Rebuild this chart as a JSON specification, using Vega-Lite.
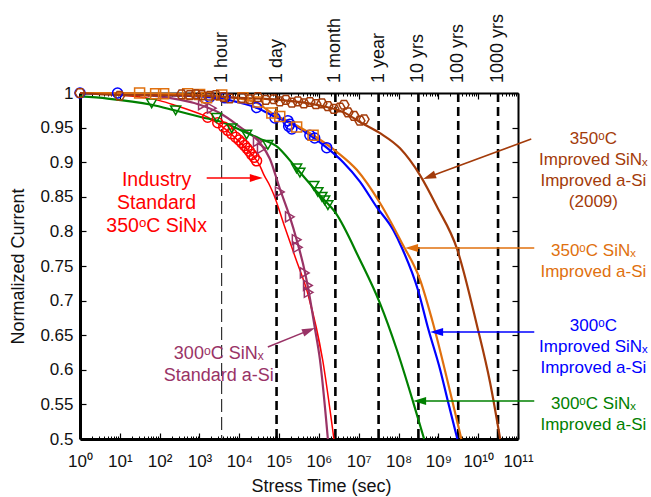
{
  "$schema": "https://vega.github.io/schema/vega-lite/v6.json",
  "width": 438,
  "height": 346,
  "autosize": {"type": "none"},
  "padding": {"left": 80, "top": 93, "right": 133, "bottom": 58},
  "background": "white",
  "config": {
    "font": "Liberation Sans",
    "view": {"stroke": null},
    "axis": {"grid": false, "domainColor": "black", "tickColor": "black", "labelColor": "#111", "titleColor": "#111", "titleFontWeight": "normal", "labelFont": "Liberation Sans", "titleFont": "Liberation Sans"},
    "text": {"font": "Liberation Sans"}
  },
  "datasets": {
    "events": [
      {"label": "1 hour", "t": 3600},
      {"label": "1 day", "t": 86400},
      {"label": "1 month", "t": 2592000},
      {"label": "1 year", "t": 31536000},
      {"label": "10 yrs", "t": 315360000},
      {"label": "100 yrs", "t": 3153600000},
      {"label": "1000 yrs", "t": 31536000000}
    ],
    "curves": [
      {"series": "std350", "t": 1, "v": 1.0}, {"series": "std350", "t": 10, "v": 0.997}, {"series": "std350", "t": 100, "v": 0.989}, {"series": "std350", "t": 252, "v": 0.982}, {"series": "std350", "t": 1010, "v": 0.97}, {"series": "std350", "t": 1610, "v": 0.965}, {"series": "std350", "t": 5130, "v": 0.945}, {"series": "std350", "t": 10300, "v": 0.929}, {"series": "std350", "t": 26000, "v": 0.904}, {"series": "std350", "t": 32800, "v": 0.895}, {"series": "std350", "t": 41300, "v": 0.882}, {"series": "std350", "t": 58500, "v": 0.866}, {"series": "std350", "t": 73800, "v": 0.853}, {"series": "std350", "t": 132000, "v": 0.81}, {"series": "std350", "t": 264000, "v": 0.76}, {"series": "std350", "t": 528000, "v": 0.71}, {"series": "std350", "t": 1245000, "v": 0.614}, {"series": "std350", "t": 2380000, "v": 0.5},
      {"series": "std300", "t": 1, "v": 1.0}, {"series": "std300", "t": 10, "v": 0.999}, {"series": "std300", "t": 100, "v": 0.995}, {"series": "std300", "t": 1010, "v": 0.983}, {"series": "std300", "t": 3230, "v": 0.971}, {"series": "std300", "t": 10300, "v": 0.951}, {"series": "std300", "t": 32800, "v": 0.928}, {"series": "std300", "t": 58500, "v": 0.905}, {"series": "std300", "t": 104000, "v": 0.862}, {"series": "std300", "t": 186000, "v": 0.821}, {"series": "std300", "t": 276000, "v": 0.788}, {"series": "std300", "t": 450000, "v": 0.74}, {"series": "std300", "t": 528000, "v": 0.72}, {"series": "std300", "t": 793000, "v": 0.66}, {"series": "std300", "t": 1060000, "v": 0.615}, {"series": "std300", "t": 1680000, "v": 0.5},
      {"series": "imp300", "t": 1, "v": 0.995}, {"series": "imp300", "t": 4.92, "v": 0.992}, {"series": "imp300", "t": 63, "v": 0.983}, {"series": "imp300", "t": 236, "v": 0.975}, {"series": "imp300", "t": 1140, "v": 0.965}, {"series": "imp300", "t": 3630, "v": 0.958}, {"series": "imp300", "t": 10300, "v": 0.947}, {"series": "imp300", "t": 32800, "v": 0.934}, {"series": "imp300", "t": 82800, "v": 0.924}, {"series": "imp300", "t": 276000, "v": 0.891}, {"series": "imp300", "t": 1060000, "v": 0.852}, {"series": "imp300", "t": 2680000, "v": 0.826}, {"series": "imp300", "t": 10700000, "v": 0.759}, {"series": "imp300", "t": 34200000, "v": 0.696}, {"series": "imp300", "t": 90600000, "v": 0.629}, {"series": "imp300", "t": 234000000, "v": 0.553}, {"series": "imp300", "t": 439000000, "v": 0.5},
      {"series": "impimp300", "t": 1, "v": 1.0}, {"series": "impimp300", "t": 10, "v": 0.999}, {"series": "impimp300", "t": 100, "v": 0.997}, {"series": "impimp300", "t": 1010, "v": 0.995}, {"series": "impimp300", "t": 3230, "v": 0.992}, {"series": "impimp300", "t": 10300, "v": 0.986}, {"series": "impimp300", "t": 29200, "v": 0.978}, {"series": "impimp300", "t": 82800, "v": 0.965}, {"series": "impimp300", "t": 186000, "v": 0.957}, {"series": "impimp300", "t": 593000, "v": 0.939}, {"series": "impimp300", "t": 1570000, "v": 0.921}, {"series": "impimp300", "t": 4060000, "v": 0.9}, {"series": "impimp300", "t": 10700000, "v": 0.872}, {"series": "impimp300", "t": 28400000, "v": 0.835}, {"series": "impimp300", "t": 73500000, "v": 0.802}, {"series": "impimp300", "t": 122000000, "v": 0.776}, {"series": "impimp300", "t": 309000000, "v": 0.715}, {"series": "impimp300", "t": 552000000, "v": 0.66}, {"series": "impimp300", "t": 1110000000, "v": 0.6}, {"series": "impimp300", "t": 1760000000, "v": 0.553}, {"series": "impimp300", "t": 3000000000, "v": 0.5},
      {"series": "imp350", "t": 1, "v": 1.0}, {"series": "imp350", "t": 10, "v": 1.0}, {"series": "imp350", "t": 100, "v": 0.999}, {"series": "imp350", "t": 1010, "v": 0.997}, {"series": "imp350", "t": 10300, "v": 0.992}, {"series": "imp350", "t": 29200, "v": 0.985}, {"series": "imp350", "t": 65800, "v": 0.971}, {"series": "imp350", "t": 276000, "v": 0.953}, {"series": "imp350", "t": 714000, "v": 0.939}, {"series": "imp350", "t": 2810000, "v": 0.915}, {"series": "imp350", "t": 8930000, "v": 0.889}, {"series": "imp350", "t": 34200000, "v": 0.841}, {"series": "imp350", "t": 122000000, "v": 0.783}, {"series": "imp350", "t": 348000000, "v": 0.73}, {"series": "imp350", "t": 697000000, "v": 0.672}, {"series": "imp350", "t": 2220000000, "v": 0.556}, {"series": "imp350", "t": 3780000000, "v": 0.5},
      {"series": "impimp350", "t": 1, "v": 1.0}, {"series": "impimp350", "t": 10, "v": 0.997}, {"series": "impimp350", "t": 1010, "v": 0.996}, {"series": "impimp350", "t": 10300, "v": 0.993}, {"series": "impimp350", "t": 104000, "v": 0.99}, {"series": "impimp350", "t": 1060000, "v": 0.982}, {"series": "impimp350", "t": 4260000, "v": 0.972}, {"series": "impimp350", "t": 10700000, "v": 0.958}, {"series": "impimp350", "t": 34200000, "v": 0.942}, {"series": "impimp350", "t": 109000000, "v": 0.92}, {"series": "impimp350", "t": 348000000, "v": 0.881}, {"series": "impimp350", "t": 918000000, "v": 0.836}, {"series": "impimp350", "t": 2930000000, "v": 0.775}, {"series": "impimp350", "t": 9330000000, "v": 0.664}, {"series": "impimp350", "t": 20000000000, "v": 0.581}, {"series": "impimp350", "t": 35700000000, "v": 0.5}
    ],
    "markers": [
      {"series": "std350", "t": 1610, "v": 0.965}, {"series": "std350", "t": 2880, "v": 0.957}, {"series": "std350", "t": 4070, "v": 0.951}, {"series": "std350", "t": 5130, "v": 0.946}, {"series": "std350", "t": 6470, "v": 0.941}, {"series": "std350", "t": 8170, "v": 0.936}, {"series": "std350", "t": 9820, "v": 0.932}, {"series": "std350", "t": 11600, "v": 0.928}, {"series": "std350", "t": 13600, "v": 0.924}, {"series": "std350", "t": 15600, "v": 0.92}, {"series": "std350", "t": 17900, "v": 0.916}, {"series": "std350", "t": 20600, "v": 0.911}, {"series": "std350", "t": 23700, "v": 0.907}, {"series": "std350", "t": 27200, "v": 0.902},
      {"series": "std300", "t": 1220, "v": 0.983}, {"series": "std300", "t": 2030, "v": 0.978}, {"series": "std300", "t": 29200, "v": 0.93}, {"series": "std300", "t": 36800, "v": 0.92}, {"series": "std300", "t": 104000, "v": 0.857}, {"series": "std300", "t": 186000, "v": 0.821}, {"series": "std300", "t": 276000, "v": 0.788}, {"series": "std300", "t": 296000, "v": 0.777}, {"series": "std300", "t": 440000, "v": 0.74}, {"series": "std300", "t": 528000, "v": 0.722}, {"series": "std300", "t": 553000, "v": 0.712},
      {"series": "imp300", "t": 63, "v": 0.985}, {"series": "imp300", "t": 252, "v": 0.975}, {"series": "imp300", "t": 2690, "v": 0.964}, {"series": "imp300", "t": 6470, "v": 0.949}, {"series": "imp300", "t": 15300, "v": 0.94}, {"series": "imp300", "t": 52100, "v": 0.925}, {"series": "imp300", "t": 276000, "v": 0.891}, {"series": "imp300", "t": 333000, "v": 0.885}, {"series": "imp300", "t": 748000, "v": 0.866}, {"series": "imp300", "t": 944000, "v": 0.857}, {"series": "imp300", "t": 1190000, "v": 0.85}, {"series": "imp300", "t": 1400000, "v": 0.845}, {"series": "imp300", "t": 1680000, "v": 0.838},
      {"series": "impimp300", "t": 1, "v": 1.0}, {"series": "impimp300", "t": 8.77, "v": 1.0}, {"series": "impimp300", "t": 1810, "v": 0.994}, {"series": "impimp300", "t": 4370, "v": 0.993}, {"series": "impimp300", "t": 27200, "v": 0.979}, {"series": "impimp300", "t": 79100, "v": 0.964}, {"series": "impimp300", "t": 166000, "v": 0.96}, {"series": "impimp300", "t": 174000, "v": 0.952}, {"series": "impimp300", "t": 186000, "v": 0.955}, {"series": "impimp300", "t": 209000, "v": 0.948}, {"series": "impimp300", "t": 593000, "v": 0.939}, {"series": "impimp300", "t": 783000, "v": 0.935}, {"series": "impimp300", "t": 1570000, "v": 0.921},
      {"series": "imp350", "t": 31.4, "v": 1.0}, {"series": "imp350", "t": 79.3, "v": 0.999}, {"series": "imp350", "t": 126, "v": 0.999}, {"series": "imp350", "t": 506, "v": 0.999}, {"series": "imp350", "t": 1010, "v": 0.998}, {"series": "imp350", "t": 1510, "v": 0.993}, {"series": "imp350", "t": 3630, "v": 0.997}, {"series": "imp350", "t": 12400, "v": 0.993}, {"series": "imp350", "t": 29200, "v": 0.987}, {"series": "imp350", "t": 65800, "v": 0.971}, {"series": "imp350", "t": 104000, "v": 0.966}, {"series": "imp350", "t": 276000, "v": 0.951}, {"series": "imp350", "t": 714000, "v": 0.939},
      {"series": "impimp350", "t": 1, "v": 1.0}, {"series": "impimp350", "t": 9.87, "v": 0.996}, {"series": "impimp350", "t": 357, "v": 0.998}, {"series": "impimp350", "t": 569, "v": 0.997}, {"series": "impimp350", "t": 805, "v": 0.998}, {"series": "impimp350", "t": 1140, "v": 0.997}, {"series": "impimp350", "t": 1810, "v": 0.996}, {"series": "impimp350", "t": 2560, "v": 0.997}, {"series": "impimp350", "t": 4070, "v": 0.994}, {"series": "impimp350", "t": 5770, "v": 0.992}, {"series": "impimp350", "t": 11600, "v": 0.993}, {"series": "impimp350", "t": 18400, "v": 0.991}, {"series": "impimp350", "t": 29200, "v": 0.994}, {"series": "impimp350", "t": 46400, "v": 0.99}, {"series": "impimp350", "t": 73800, "v": 0.991}, {"series": "impimp350", "t": 104000, "v": 0.988}, {"series": "impimp350", "t": 148000, "v": 0.99}, {"series": "impimp350", "t": 209000, "v": 0.986}, {"series": "impimp350", "t": 296000, "v": 0.988}, {"series": "impimp350", "t": 419000, "v": 0.985}, {"series": "impimp350", "t": 593000, "v": 0.987}, {"series": "impimp350", "t": 840000, "v": 0.984}, {"series": "impimp350", "t": 1190000, "v": 0.985}, {"series": "impimp350", "t": 1680000, "v": 0.981}, {"series": "impimp350", "t": 2380000, "v": 0.977}, {"series": "impimp350", "t": 3370000, "v": 0.979}, {"series": "impimp350", "t": 4260000, "v": 0.983}, {"series": "impimp350", "t": 5370000, "v": 0.972}, {"series": "impimp350", "t": 7590000, "v": 0.967}, {"series": "impimp350", "t": 10700000, "v": 0.96}, {"series": "impimp350", "t": 13600000, "v": 0.962}
    ],
    "notes": [
      {"series": "std350", "text": "Industry\nStandard\n350ᵒC SiNx", "t": 84.1, "v": 0.8743},
      {"series": "std300", "text": "300ᵒC SiNₓ\nStandard a-Si", "t": 3050, "v": 0.6228},
      {"series": "impimp350", "text": "350ᵒC\nImproved SiNₓ\nImproved a-Si\n(2009)", "t": 7820000000000, "v": 0.9335},
      {"series": "imp350", "text": "350ᵒC SiNₓ\nImproved a-Si", "t": 7820000000000, "v": 0.7717},
      {"series": "impimp300", "text": "300ᵒC\nImproved SiNₓ\nImproved a-Si", "t": 7820000000000, "v": 0.6633},
      {"series": "imp300", "text": "300ᵒC SiNₓ\nImproved a-Si", "t": 7820000000000, "v": 0.5513}
    ],
    "arrows": [
      {"series": "std350", "t": 1521, "v": 0.8772, "t2": 26800, "v2": 0.8772},
      {"series": "std300", "t": 52100, "v": 0.6329, "t2": 560000, "v2": 0.657},
      {"series": "impimp350", "t": 215000000000, "v": 0.9335, "t2": 589000000, "v2": 0.879},
      {"series": "imp350", "t": 256000000000, "v": 0.776, "t2": 212000000, "v2": 0.776},
      {"series": "impimp300", "t": 256000000000, "v": 0.6546, "t2": 904000000, "v2": 0.6546},
      {"series": "imp300", "t": 256000000000, "v": 0.5549, "t2": 338000000, "v2": 0.5549}
    ]
  },
  "resolve": {"axis": {"x": "independent", "y": "independent"}},
  "layer": [
    {
      "data": {"name": "events"},
      "mark": {"type": "rule"},
      "encoding": {
        "x": {"field": "t", "type": "quantitative", "scale": {"type": "log", "domain": [1, 100000000000]},
          "axis": {"orient": "bottom", "values": [1, 10, 100, 1000, 10000, 100000, 1000000, 10000000, 100000000, 1000000000, 10000000000, 100000000000],
            "labelExpr": "'10' + ['⁰','¹','²','³','⁴','⁵','⁶','⁷','⁸','⁹','¹⁰','¹¹'][round(log(datum.value)/LN10)]",
            "labelFontSize": 17, "labelPadding": 20, "labelOverlap": false, "labelFlush": false, "tickSize": -6, "tickWidth": 1.2, "domainWidth": 3,
            "title": "Stress Time (sec)", "titleFontSize": 18, "titleX": 241, "titleY": 47, "titleBaseline": "middle", "titleAlign": "center"}},
        "strokeWidth": {"condition": {"test": "datum.label == '1 hour'", "value": 1.2}, "value": 2.6},
        "strokeDash": {"condition": {"test": "datum.label == '1 hour'", "value": [13, 5]}, "value": [9, 5]},
        "color": {"condition": {"test": "datum.label == '1 hour'", "value": "#333333"}, "value": "#000000"}
      }
    },
    {
      "data": {"name": "curves"},
      "mark": {"type": "line", "interpolate": "monotone"},
      "encoding": {
        "x": {"field": "t", "type": "quantitative", "scale": {"type": "log", "domain": [1, 100000000000]},
          "axis": {"orient": "top", "values": [1, 10, 100, 1000, 10000, 100000, 1000000, 10000000, 100000000, 1000000000, 10000000000, 100000000000], "labels": false, "tickSize": -6, "tickWidth": 1.2, "domainWidth": 2, "title": null}},
        "y": {"field": "v", "type": "quantitative", "scale": {"domain": [0.5, 1], "zero": false, "nice": false},
          "axis": {"orient": "left", "values": [0.5, 0.55, 0.6, 0.65, 0.7, 0.75, 0.8, 0.85, 0.9, 0.95, 1], "format": ".2~f", "labelFontSize": 17, "labelPadding": 13, "tickSize": -6, "tickWidth": 1.2, "domainWidth": 3,
            "title": "Normalized Current", "titleFontSize": 18, "titleX": -62, "titleY": 173, "titleBaseline": "middle", "titleAngle": 270, "titleAlign": "center"}},
        "color": {"field": "series", "type": "nominal", "scale": {"domain": ["std350", "std300", "imp300", "impimp300", "imp350", "impimp350"], "range": ["#ff0000", "#993366", "#008000", "#0000ff", "#e0700e", "#a33b0a"]}, "legend": null},
        "strokeWidth": {"condition": {"test": "datum.series == 'std350'", "value": 1.5}, "value": 2.2}
      }
    },
    {
      "data": {"name": "markers"},
      "mark": {"type": "point", "filled": false, "strokeWidth": 1.5, "size": 100, "opacity": 1},
      "encoding": {
        "x": {"field": "t", "type": "quantitative", "scale": {"type": "log", "domain": [1, 100000000000]},
          "axis": {"orient": "bottom", "values": [2,3,4,5,6,7,8,9,20,30,40,50,60,70,80,90,200,300,400,500,600,700,800,900,2000,3000,4000,5000,6000,7000,8000,9000,2e4,3e4,4e4,5e4,6e4,7e4,8e4,9e4,2e5,3e5,4e5,5e5,6e5,7e5,8e5,9e5,2e6,3e6,4e6,5e6,6e6,7e6,8e6,9e6,2e7,3e7,4e7,5e7,6e7,7e7,8e7,9e7,2e8,3e8,4e8,5e8,6e8,7e8,8e8,9e8,2e9,3e9,4e9,5e9,6e9,7e9,8e9,9e9,2e10,3e10,4e10,5e10,6e10,7e10,8e10,9e10], "labels": false, "tickSize": -3, "tickWidth": 1, "domain": false, "title": null}},
        "y": {"field": "v", "type": "quantitative", "scale": {"domain": [0.5, 1], "zero": false, "nice": false},
          "axis": {"orient": "right", "values": [0.5, 0.55, 0.6, 0.65, 0.7, 0.75, 0.8, 0.85, 0.9, 0.95, 1], "labels": false, "tickSize": -6, "tickWidth": 1.2, "domainWidth": 2, "title": null}},
        "color": {"field": "series", "type": "nominal", "scale": {"domain": ["std350", "std300", "imp300", "impimp300", "imp350", "impimp350"], "range": ["#ff0000", "#993366", "#008000", "#0000ff", "#e0700e", "#a33b0a"]}, "legend": null},
        "shape": {"field": "series", "type": "nominal", "scale": {"domain": ["std350", "std300", "imp300", "impimp300", "imp350", "impimp350"], "range": ["circle", "triangle-right", "triangle-down", "circle", "square", "M-1,0L-0.5,-0.866L0.5,-0.866L1,0L0.5,0.866L-0.5,0.866Z"]}, "legend": null}
      }
    },
    {
      "data": {"name": "events"},
      "mark": {"type": "text", "angle": 270, "align": "left", "baseline": "middle", "dx": 10, "fontSize": 18, "color": "#111111"},
      "encoding": {
        "x": {"field": "t", "type": "quantitative", "scale": {"type": "log", "domain": [1, 100000000000]},
          "axis": {"orient": "top", "values": [2,3,4,5,6,7,8,9,20,30,40,50,60,70,80,90,200,300,400,500,600,700,800,900,2000,3000,4000,5000,6000,7000,8000,9000,2e4,3e4,4e4,5e4,6e4,7e4,8e4,9e4,2e5,3e5,4e5,5e5,6e5,7e5,8e5,9e5,2e6,3e6,4e6,5e6,6e6,7e6,8e6,9e6,2e7,3e7,4e7,5e7,6e7,7e7,8e7,9e7,2e8,3e8,4e8,5e8,6e8,7e8,8e8,9e8,2e9,3e9,4e9,5e9,6e9,7e9,8e9,9e9,2e10,3e10,4e10,5e10,6e10,7e10,8e10,9e10], "labels": false, "tickSize": -3, "tickWidth": 1, "domain": false, "title": null}},
        "y": {"datum": 1, "type": "quantitative", "scale": {"domain": [0.5, 1], "zero": false, "nice": false}, "axis": null},
        "text": {"field": "label"}
      }
    },
    {
      "data": {"name": "arrows"},
      "mark": {"type": "rule", "strokeWidth": 1.5},
      "encoding": {
        "x": {"field": "t", "type": "quantitative", "scale": {"type": "log", "domain": [1, 100000000000]}, "axis": null},
        "y": {"field": "v", "type": "quantitative", "scale": {"domain": [0.5, 1], "zero": false, "nice": false}, "axis": null},
        "x2": {"field": "t2"},
        "y2": {"field": "v2"},
        "color": {"field": "series", "type": "nominal", "scale": {"domain": ["std350", "std300", "imp300", "impimp300", "imp350", "impimp350"], "range": ["#ff0000", "#993366", "#008000", "#0000ff", "#e0700e", "#a33b0a"]}, "legend": null}
      }
    },
    {
      "data": {"name": "arrows"},
      "mark": {"type": "point", "filled": true, "size": 169, "opacity": 1, "strokeWidth": 0},
      "encoding": {
        "x": {"field": "t2", "type": "quantitative", "scale": {"type": "log", "domain": [1, 100000000000]}, "axis": null},
        "y": {"field": "v2", "type": "quantitative", "scale": {"domain": [0.5, 1], "zero": false, "nice": false}, "axis": null},
        "color": {"field": "series", "type": "nominal", "scale": {"domain": ["std350", "std300", "imp300", "impimp300", "imp350", "impimp350"], "range": ["#ff0000", "#993366", "#008000", "#0000ff", "#e0700e", "#a33b0a"]}, "legend": null},
        "shape": {"condition": {"test": "datum.series == 'std350' || datum.series == 'std300'", "value": "M1,0L-1,-0.6L-1,0.6Z"}, "value": "M-1,0L1,-0.6L1,0.6Z"},
        "angle": {"condition": [{"test": "datum.series == 'std300'", "value": -22}, {"test": "datum.series == 'impimp350'", "value": -20}], "value": 0}
      }
    },
    {
      "data": {"name": "notes"},
      "transform": [{"filter": "datum.series == 'std350'"}],
      "mark": {"type": "text", "fontSize": 19.5, "lineHeight": 23, "lineBreak": "\n", "align": "center", "baseline": "middle"},
      "encoding": {
        "x": {"field": "t", "type": "quantitative", "scale": {"type": "log", "domain": [1, 100000000000]}, "axis": null},
        "y": {"field": "v", "type": "quantitative", "scale": {"domain": [0.5, 1], "zero": false, "nice": false}, "axis": null},
        "text": {"field": "text"},
        "color": {"field": "series", "type": "nominal", "scale": {"domain": ["std350", "std300", "imp300", "impimp300", "imp350", "impimp350"], "range": ["#ff0000", "#993366", "#008000", "#0000ff", "#e0700e", "#a33b0a"]}, "legend": null}
      }
    },
    {
      "data": {"name": "notes"},
      "transform": [{"filter": "datum.series == 'std300'"}],
      "mark": {"type": "text", "fontSize": 18, "lineHeight": 22, "lineBreak": "\n", "align": "center", "baseline": "middle"},
      "encoding": {
        "x": {"field": "t", "type": "quantitative", "scale": {"type": "log", "domain": [1, 100000000000]}, "axis": null},
        "y": {"field": "v", "type": "quantitative", "scale": {"domain": [0.5, 1], "zero": false, "nice": false}, "axis": null},
        "text": {"field": "text"},
        "color": {"field": "series", "type": "nominal", "scale": {"domain": ["std350", "std300", "imp300", "impimp300", "imp350", "impimp350"], "range": ["#ff0000", "#993366", "#008000", "#0000ff", "#e0700e", "#a33b0a"]}, "legend": null}
      }
    },
    {
      "data": {"name": "notes"},
      "transform": [{"filter": "datum.series != 'std350' && datum.series != 'std300'"}],
      "mark": {"type": "text", "fontSize": 17, "lineHeight": 21, "lineBreak": "\n", "align": "center", "baseline": "middle"},
      "encoding": {
        "x": {"field": "t", "type": "quantitative", "scale": {"type": "log", "domain": [1, 100000000000]}, "axis": null},
        "y": {"field": "v", "type": "quantitative", "scale": {"domain": [0.5, 1], "zero": false, "nice": false}, "axis": null},
        "text": {"field": "text"},
        "color": {"field": "series", "type": "nominal", "scale": {"domain": ["std350", "std300", "imp300", "impimp300", "imp350", "impimp350"], "range": ["#ff0000", "#993366", "#008000", "#0000ff", "#e0700e", "#a33b0a"]}, "legend": null}
      }
    }
  ]
}
